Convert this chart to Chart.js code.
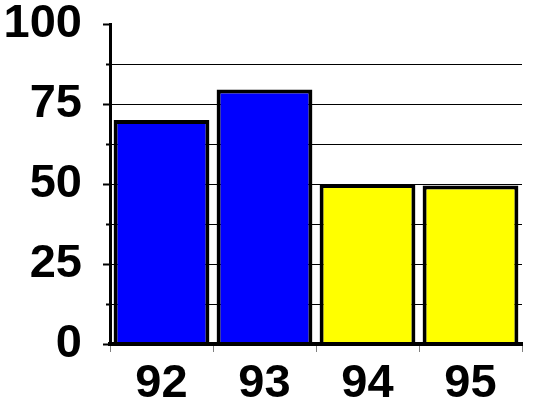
<!DOCTYPE html>
<html>
<head>
<meta charset="utf-8">
<script src="https://cdn.jsdelivr.net/npm/chart.js@4/dist/chart.umd.min.js"></script>
<style>
  html, body { margin: 0; padding: 0; background: #fff; }
  canvas { display: block; }
</style>
</head>
<body>
<canvas id="chart" width="555" height="408"></canvas>
<script>
// données
const years = ['92', '93', '94', '95']
const values = [70, 79.5, 50, 49.5]
const barColors = ['#0000ff', '#0000ff', '#ffff00', '#ffff00']
const yTicks = [0, 25, 50, 75, 100]

const labelFont = { family: "'Liberation Sans Narrow', 'Arial Narrow', 'Liberation Sans', Arial, sans-serif", size: 47, weight: 'bold', lineHeight: 1 }

const ctx = document.getElementById('chart').getContext('2d')
new Chart(ctx, {
    type: 'bar',
    data: {
        labels: years,
        datasets: [{
            data: values,
            backgroundColor: barColors,
            borderColor: '#000',
            borderWidth: 4,
            borderSkipped: 'start',
            categoryPercentage: 1,
            barPercentage: 0.93
        }]
    },
    options: {
        responsive: false,
        devicePixelRatio: 1,
        animation: false,
        layout: { padding: { top: 24, right: 33, bottom: 0, left: 0 } },
        plugins: { legend: { display: false }, tooltip: { enabled: false } },
        scales: {
            x: {
                afterFit: (scale) => { scale.height = 64 },
                grid: {
                    offset: true,
                    drawOnChartArea: false,
                    tickLength: 8,
                    tickColor: '#808080',
                    tickWidth: 1
                },
                border: { color: '#000', width: 4, z: 1 },
                ticks: { color: '#000', font: labelFont, padding: 9 }
            },
            y: {
                min: 0,
                max: 100,
                afterFit: (scale) => {
                    scale.width = 110
                    scale.paddingTop = 24
                    scale.paddingBottom = 0
                },
                grid: {
                    color: (c) => (c.tick && (c.tick.value === 100 || c.tick.value === 0)) ? 'rgba(0,0,0,0)' : '#000',
                    lineWidth: 1,
                    tickLength: 7,
                    tickColor: '#000',
                    tickWidth: 2,
                    tickBorderDash: (c) => (c.tick && c.tick.value % 25 !== 0) ? [0, 3, 4, 0] : []
                },
                border: { color: '#000', width: 3 },
                ticks: {
                    stepSize: 12.5,
                    autoSkip: false,
                    color: '#000',
                    font: labelFont,
                    padding: 21,
                    callback: (v) => yTicks.includes(v) ? String(v) : ''
                }
            }
        }
    }
})
</script>
</body>
</html>
